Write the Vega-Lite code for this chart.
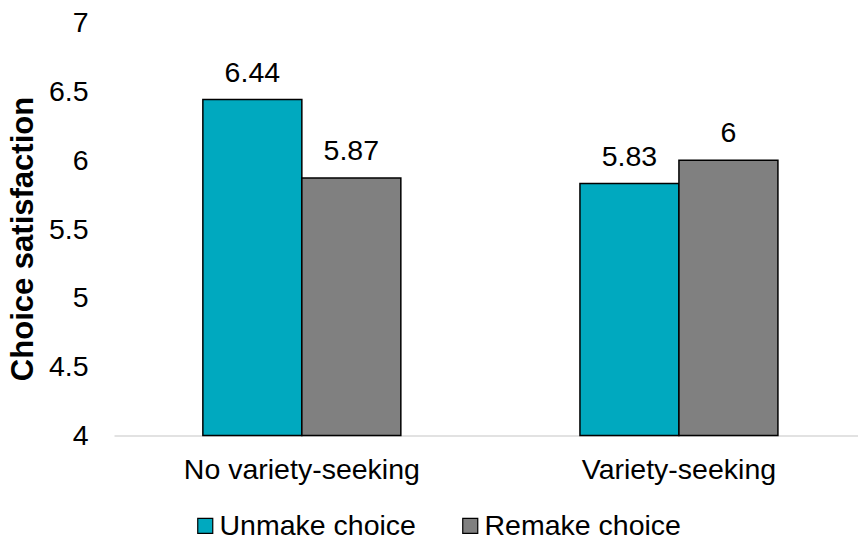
{
  "$schema": "https://vega.github.io/schema/vega-lite/v6.json",
  "autosize": {"type": "none"},
  "width": 744,
  "height": 413,
  "padding": {"left": 114, "top": 22.5, "right": 0, "bottom": 103.5},
  "background": "white",
  "config": {
    "font": "Liberation Sans",
    "view": {"stroke": null}
  },
  "data": {
    "values": [
      {"group": "No variety-seeking", "choice": "Unmake choice", "satisfaction": 6.44},
      {"group": "No variety-seeking", "choice": "Remake choice", "satisfaction": 5.87},
      {"group": "Variety-seeking", "choice": "Unmake choice", "satisfaction": 5.83},
      {"group": "Variety-seeking", "choice": "Remake choice", "satisfaction": 6}
    ]
  },
  "encoding": {
    "x": {
      "field": "group",
      "type": "nominal",
      "sort": ["No variety-seeking", "Variety-seeking"],
      "scale": {"paddingInner": 0.475, "paddingOuter": 0.224, "align": 0.526},
      "axis": {
        "title": null,
        "labelAngle": 0,
        "labelFontSize": 28.5,
        "labelColor": "black",
        "labelPadding": 20,
        "labelLimit": 0,
        "ticks": false,
        "domainColor": "#d9d9d9",
        "domainWidth": 1.5
      }
    },
    "xOffset": {
      "field": "choice",
      "type": "nominal",
      "sort": ["Unmake choice", "Remake choice"],
      "scale": {"paddingInner": 0, "paddingOuter": 0}
    }
  },
  "layer": [
    {
      "mark": {"type": "bar", "stroke": "black", "strokeWidth": 1.5},
      "encoding": {
        "y": {
          "field": "satisfaction",
          "type": "quantitative",
          "scale": {"domain": [4, 7], "zero": false, "nice": false},
          "axis": {
            "title": "Choice satisfaction",
            "titleFontSize": 31,
            "titleFontWeight": "bold",
            "titleColor": "black",
            "titleX": -91,
            "titleY": 216,
            "titleAngle": 270,
            "titleAlign": "center",
            "titleBaseline": "middle",
            "titleLimit": 0,
            "values": [4, 4.5, 5, 5.5, 6, 6.5, 7],
            "format": "~g",
            "labelFontSize": 28.5,
            "labelColor": "black",
            "labelPadding": 26,
            "ticks": false,
            "domain": false,
            "grid": false
          }
        },
        "y2": {"datum": 4},
        "color": {
          "field": "choice",
          "type": "nominal",
          "sort": ["Unmake choice", "Remake choice"],
          "scale": {"domain": ["Unmake choice", "Remake choice"], "range": ["#00a9bf", "#808080"]},
          "legend": {
            "title": null,
            "orient": "none",
            "direction": "horizontal",
            "legendX": 77,
            "legendY": 489,
            "padding": 0,
            "symbolType": "square",
            "symbolSize": 225,
            "symbolStrokeColor": "black",
            "symbolStrokeWidth": 1.2,
            "labelFontSize": 28.5,
            "labelColor": "black",
            "labelOffset": 0,
            "labelLimit": 0,
            "columnPadding": 40
          }
        }
      }
    },
    {
      "mark": {"type": "text", "baseline": "alphabetic", "dy": -18, "fontSize": 28.5, "color": "black"},
      "encoding": {
        "y": {"field": "satisfaction", "type": "quantitative"},
        "text": {"field": "satisfaction", "type": "quantitative", "format": "~g"}
      }
    }
  ]
}
